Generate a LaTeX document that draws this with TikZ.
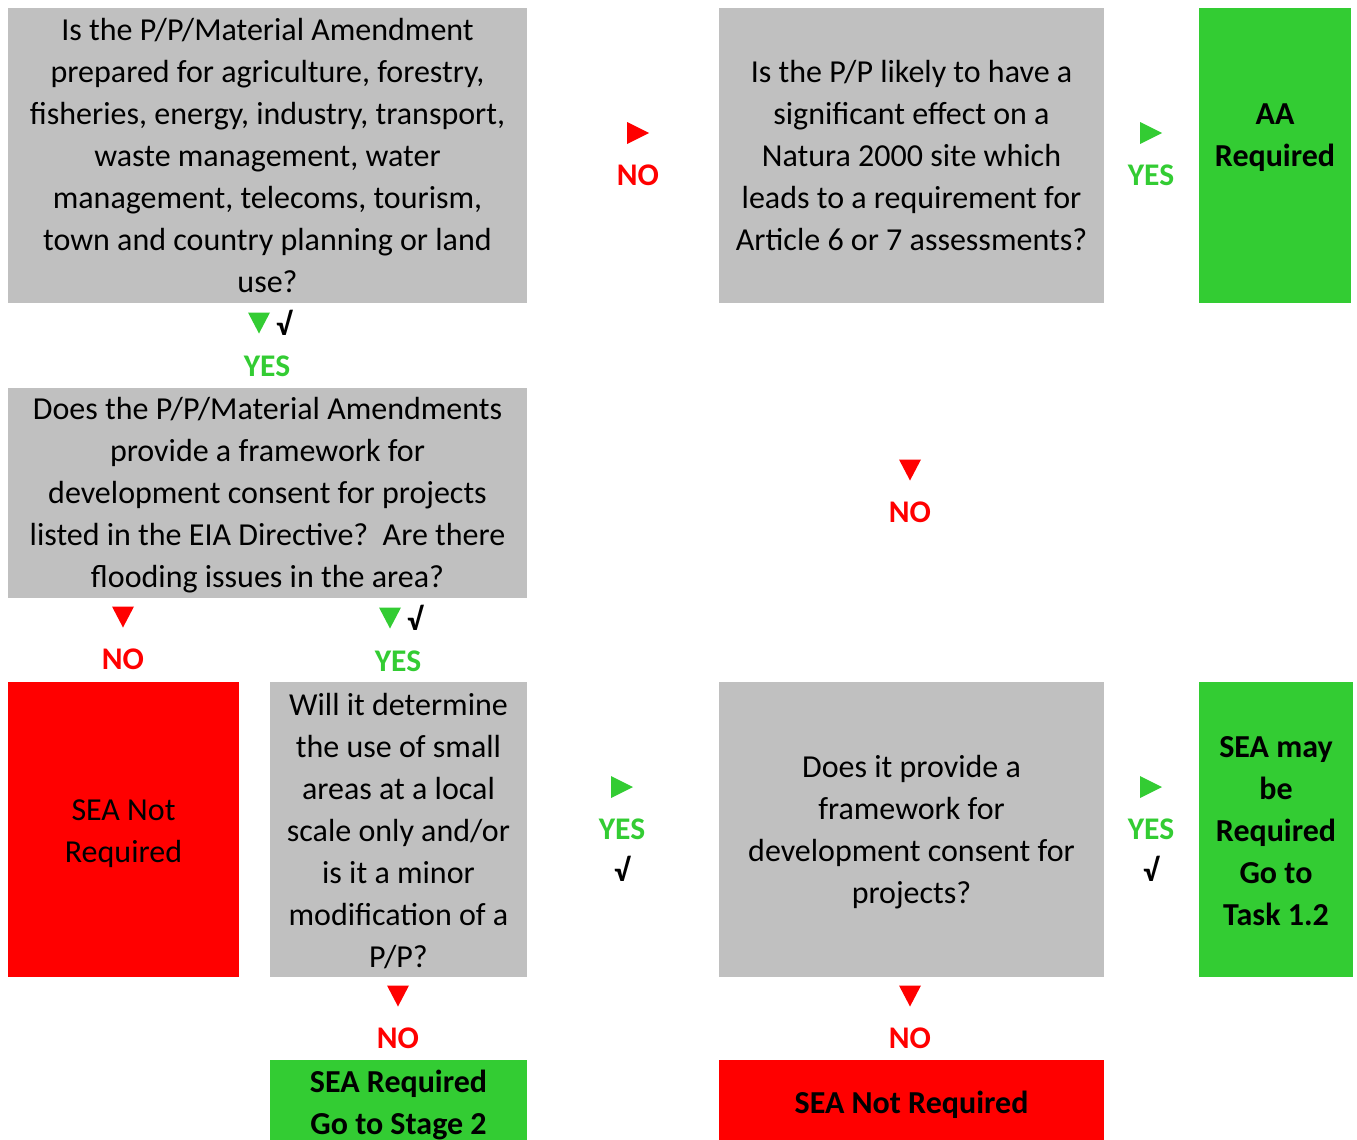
\documentclass[tikz,border=0pt]{standalone}
\usepackage{fontspec}
\setmainfont{Carlito}
\definecolor{boxgray}{HTML}{C0C0C0}
\definecolor{okgreen}{HTML}{33CC33}
\definecolor{nored}{HTML}{FF0000}
\tikzset{
  box/.style={rectangle, inner sep=0pt},
  graybox/.style={box, fill=boxgray},
  greenbox/.style={box, fill=okgreen},
  redbox/.style={box, fill=nored},
  boxtext/.style={inner sep=0pt, align=center, font=\fontsize{32}{42}\selectfont},
  boldtext/.style={boxtext, font=\fontsize{32}{42}\selectfont\bfseries},
  lab/.style={inner sep=0pt, font=\fontsize{31.5}{34}\selectfont\bfseries},
  yeslab/.style={lab, text=okgreen},
  nolab/.style={lab, text=nored},
  tick/.style={lab, text=black},
}
\newcommand{\tridown}[2]{\fill[#1, shift={(#2)}] (-11,-10.5) -- (11,-10.5) -- (0,10.5) -- cycle;}
\newcommand{\triright}[2]{\fill[#1, shift={(#2)}] (-11,-11) -- (11,0) -- (-11,11) -- cycle;}
\begin{document}
\begin{tikzpicture}[x=1pt, y=-1pt]
\useasboundingbox (0,0) rectangle (1357,1140);
% boxes
\node[graybox, minimum width=519pt, minimum height=295pt] (A) at (267.5,155.5) {};
\node[boxtext] (At) at (A.center)
  {Is the P/P/Material Amendment\\prepared for agriculture, forestry,\\fisheries, energy, industry, transport,\\waste management, water\\management, telecoms, tourism,\\town and country planning or land\\use?};
\node[graybox, minimum width=385pt, minimum height=295pt] (B) at (911.5,155.5) {};
\node[boxtext] (Bt) at (B.center)
  {Is the P/P likely to have a\\significant effect on a\\Natura 2000 site which\\leads to a requirement for\\Article 6 or 7 assessments?};
\node[greenbox, minimum width=152pt, minimum height=295pt] (C) at (1275,155.5) {};
\node[boldtext, yshift=18pt] (Ct) at (C.center) {AA\\Required};
\node[graybox, minimum width=519pt, minimum height=210pt] (D) at (267.5,493) {};
\node[boxtext, yshift=-2pt] (Dt) at (D.center)
  {Does the P/P/Material Amendments\\provide a framework for\\development consent for projects\\listed in the EIA Directive?\ \ Are there\\flooding issues in the area?};
\node[redbox, minimum width=231pt, minimum height=295pt] (E) at (123.5,829.5) {};
\node[boxtext, yshift=-4pt] (Et) at (E.center) {SEA Not\\Required};
\node[graybox, minimum width=257pt, minimum height=295pt] (F) at (398.5,829.5) {};
\node[boxtext, yshift=-1.5pt] (Ft) at (F.center)
  {Will it determine\\the use of small\\areas at a local\\scale only and/or\\is it a minor\\modification of a\\P/P?};
\node[graybox, minimum width=385pt, minimum height=295pt] (G) at (911.5,829.5) {};
\node[boxtext, yshift=-3pt] (Gt) at (G.center)
  {Does it provide a\\framework for\\development consent for\\projects?};
\node[greenbox, minimum width=154pt, minimum height=295pt] (H) at (1276,829.5) {};
\node[boldtext, yshift=-2pt] (Ht) at (H.center)
  {SEA may\\be\\Required\\Go to\\Task 1.2};
\node[greenbox, minimum width=257pt, minimum height=80pt] (I) at (398.5,1100) {};
\node[boldtext, yshift=-5pt] (It) at (I.center) {SEA Required\\Go to Stage 2};
\node[redbox, minimum width=385pt, minimum height=80pt] (J) at (911.5,1100) {};
\node[boldtext, yshift=-5pt] (Jt) at (J.center) {SEA Not Required};
% A -> D : YES
\tridown{okgreen}{259,323}
\node[tick] (tAD) at (284,323) {√};
\node[yeslab] (lAD) at (267,366) {YES};
% A -> B : NO
\triright{nored}{638,133}
\node[nolab] (lAB) at (638,175) {NO};
% B -> C : YES
\triright{okgreen}{1151,133}
\node[yeslab] (lBC) at (1151,175) {YES};
% B -> G : NO
\tridown{nored}{910,470}
\node[nolab] (lBG) at (910,512) {NO};
% D -> E : NO
\tridown{nored}{123,617}
\node[nolab] (lDE) at (123,659) {NO};
% D -> F : YES
\tridown{okgreen}{390,618}
\node[tick] (tDF) at (415,618) {√};
\node[yeslab] (lDF) at (398,661) {YES};
% F -> G : YES
\triright{okgreen}{622,787}
\node[yeslab] (lFG) at (622,829) {YES};
\node[tick] (tFG) at (622,869) {√};
% G -> H : YES
\triright{okgreen}{1151,787}
\node[yeslab] (lGH) at (1151,829) {YES};
\node[tick] (tGH) at (1151,869) {√};
% F -> I : NO
\tridown{nored}{398,996}
\node[nolab] (lFI) at (398,1038) {NO};
% G -> J : NO
\tridown{nored}{910,996}
\node[nolab] (lGJ) at (910,1038) {NO};
\end{tikzpicture}
\end{document}
